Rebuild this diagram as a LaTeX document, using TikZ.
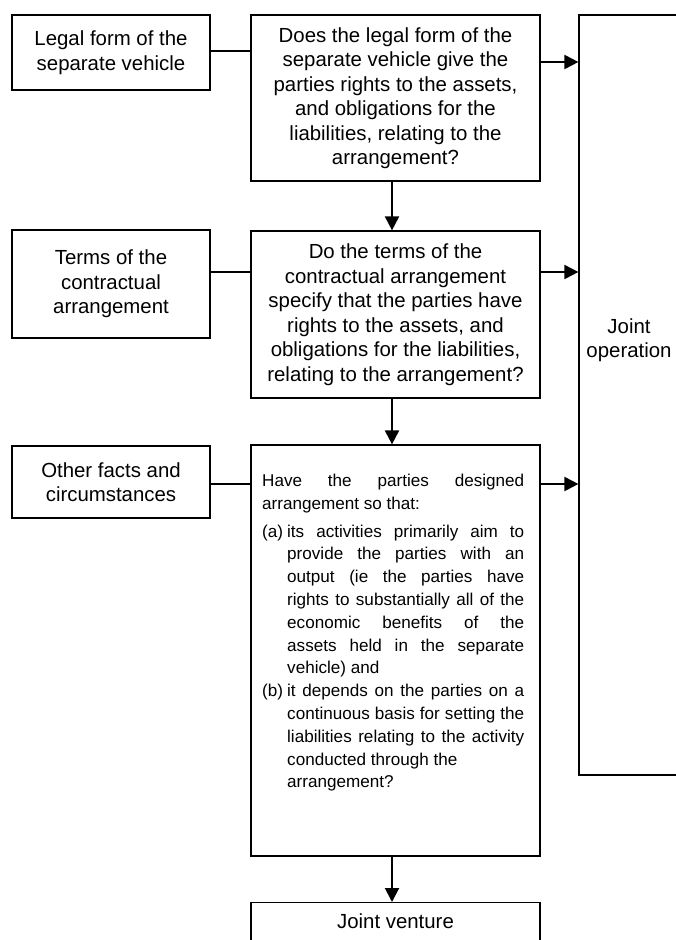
\documentclass[tikz,border=0pt]{standalone}
\usepackage{fontspec}
\setmainfont{Liberation Sans}
\usetikzlibrary{arrows.meta}
\hbadness=10000

\begin{document}
\begin{tikzpicture}[x=1pt,y=-1pt,
	box/.style={draw,line width=1.2pt,inner sep=0pt,align=center,
		font=\fontsize{20.4}{24.5}\selectfont},
	lbl/.style={inner sep=0pt,align=center,font=\fontsize{20.4}{24.5}\selectfont},
	link/.style={line width=1.2pt},
	flow/.style={line width=2pt,-{Triangle[length=14pt,width=14pt]}}]
	
	\useasboundingbox (0,0) rectangle (675,940);
	\fill[white] (0,0) rectangle (675,940);
	
	\node[box,minimum width=198pt,minimum height=75pt] (A1) at (111,52.5) {Legal form of the\\separate vehicle};
	\node[box,minimum width=198pt,minimum height=108pt] (A2) at (111,284) {Terms of the\\contractual\\arrangement};
	\node[box,minimum width=198pt,minimum height=72pt] (A3) at (111,482) {Other facts and\\circumstances};
	
	\node[box,minimum width=289pt,minimum height=166pt] (Q1) at (395.5,98) {Does the legal form of the\\separate vehicle give the\\parties rights to the assets,\\and obligations for the\\liabilities, relating to the\\arrangement?};
	\node[box,minimum width=289pt,minimum height=167pt] (Q2) at (395.5,314.5) {Do the terms of the\\contractual arrangement\\specify that the parties have\\rights to the assets, and\\obligations for the liabilities,\\relating to the arrangement?};
	\node[box,minimum width=289pt,minimum height=411pt] (Q3) at (395.5,650.5) {};
	\node[anchor=north west,inner sep=0pt,text width=262pt,align=justify,
		font=\fontsize{17.1}{22.8}\selectfont] (Q3text) at (262,474) {\parindent=0pt
		Have the parties designed\linebreak arrangement so that:\par
		\vspace{5pt}
		\hangindent=25pt\hangafter=1\makebox[25pt][l]{(a)}its activities primarily aim to\linebreak
		provide the parties with an\linebreak output (ie the parties have\linebreak
		rights to substantially all of the\linebreak economic benefits of the\linebreak
		assets held in the separate\linebreak vehicle) and\par
		\hangindent=25pt\hangafter=1\makebox[25pt][l]{(b)}it depends on the parties on a\linebreak
		continuous basis for setting the\linebreak liabilities relating to the activity\linebreak
		conducted through the\newline arrangement?\par};
	
	\node[box,minimum width=100pt,minimum height=760pt] (JO) at (629,395) {};
	\node[lbl] (JOtext) at (629,340) {Joint\\operation};
	\node[box,anchor=north,minimum width=289pt,text depth=36pt,inner ysep=11pt] (JV) at (395.5,902) {Joint venture};
	
	\coordinate (h1) at (0,51);
	\coordinate (h1r) at (0,62);
	\coordinate (h2) at (0,272);
	\coordinate (h3) at (0,484);
	\coordinate (v) at (392,0);
	
	\draw[link] (A1.east |- h1) -- (Q1.west |- h1);
	\draw[link] (A2.east |- h2) -- (Q2.west |- h2);
	\draw[link] (A3.east |- h3) -- (Q3.west |- h3);
	
	\draw[flow] (Q1.east |- h1r) -- (JO.west |- h1r);
	\draw[flow] (Q2.east |- h2) -- (JO.west |- h2);
	\draw[flow] (Q3.east |- h3) -- (JO.west |- h3);
	
	\draw[flow] (Q1.south -| v) -- (Q2.north -| v);
	\draw[flow] (Q2.south -| v) -- (Q3.north -| v);
	\draw[flow] (Q3.south -| v) -- (JV.north -| v);
	
\end{tikzpicture}
\end{document}
